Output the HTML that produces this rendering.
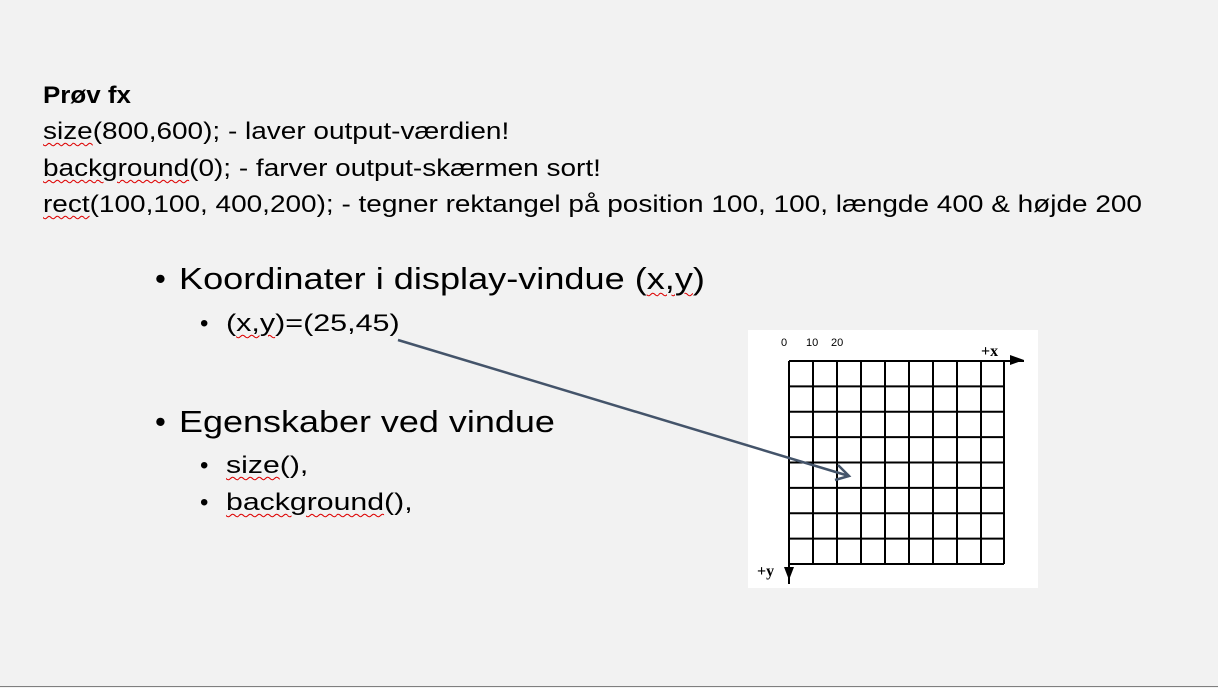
<!DOCTYPE html>
<html><head><meta charset="utf-8"><style>
body{margin:0;width:1218px;height:688px;background:#f2f2f2;position:relative;overflow:hidden;font-family:"Liberation Sans",sans-serif;color:#000}
.t{position:absolute;white-space:nowrap;transform-origin:0 50%}
.u{text-decoration:underline wavy #d00;text-decoration-thickness:1px;text-underline-offset:3px}
</style></head><body>
<div class="t" style="left:43px;top:82px;font-size:24px;font-weight:bold;transform:scaleX(1.08)">Prøv fx</div>
<div class="t" style="left:43px;top:118px;font-size:24px;transform:scaleX(1.165)"><span class="u">size</span>(800,600); - laver output-værdien!</div>
<div class="t" style="left:43px;top:155px;font-size:24px;transform:scaleX(1.165)"><span class="u">background</span>(0); - farver output-skærmen sort!</div>
<div class="t" style="left:43px;top:191px;font-size:24px;transform:scaleX(1.165)"><span class="u">rect</span>(100,100, 400,200); - tegner rektangel på position 100, 100, længde 400 &amp; højde 200</div>
<div class="t" style="left:155px;top:261px;font-size:31px">•</div>
<div class="t" style="left:179px;top:261px;font-size:31px;transform:scaleX(1.165)">Koordinater i display-vindue (<span class="u">x,y</span>)</div>
<div class="t" style="left:200px;top:310px;font-size:24px">•</div>
<div class="t" style="left:226px;top:310px;font-size:24px;transform:scaleX(1.27)">(<span class="u">x,y</span>)=(25,45)</div>
<div class="t" style="left:155px;top:404px;font-size:31px">•</div>
<div class="t" style="left:179px;top:404px;font-size:31px;transform:scaleX(1.16)">Egenskaber ved vindue</div>
<div class="t" style="left:200px;top:452px;font-size:24px">•</div>
<div class="t" style="left:226px;top:452px;font-size:24px;transform:scaleX(1.26)"><span class="u">size</span>(),</div>
<div class="t" style="left:200px;top:489px;font-size:24px">•</div>
<div class="t" style="left:226px;top:489px;font-size:24px;transform:scaleX(1.26)"><span class="u">background</span>(),</div>
<svg width="1218" height="688" style="position:absolute;left:0;top:0">
<rect x="748" y="330" width="290" height="258" fill="#fff"/>
<g stroke="#000" stroke-width="2">
<path d="M789 361V564M813 361V564M837 361V564M861 361V564M885 361V564M909 361V564M933 361V564M957 361V564M981 361V564M1004 361V564"/>
<path d="M789 361H1004M789 386.4H1004M789 411.8H1004M789 437.1H1004M789 462.5H1004M789 487.9H1004M789 513.2H1004M789 538.6H1004M789 564H1004"/>
<path d="M1004 361H1024"/><path d="M789 564V584"/>
</g>
<path d="M1010 355L1024 360L1010 365Z" fill="#000"/>
<path d="M784 567L789 580L794 567Z" fill="#000"/>
<text x="781" y="346" font-size="11" font-family="Liberation Sans">0</text>
<text x="806" y="346" font-size="11" font-family="Liberation Sans">10</text>
<text x="831" y="346" font-size="11" font-family="Liberation Sans">20</text>
<text x="981" y="356" font-size="16" font-family="Liberation Serif" font-weight="bold">+x</text>
<text x="757" y="576" font-size="16" font-family="Liberation Serif" font-weight="bold">+y</text>
<g stroke="#44546a" stroke-width="2.5" fill="none">
<path d="M398 340L849 476"/><path d="M838 465L849 476L835 480"/>
</g>
<line x1="0" y1="686.5" x2="1218" y2="686.5" stroke="#7f7f7f" stroke-width="1"/>
</svg>
</body></html>
